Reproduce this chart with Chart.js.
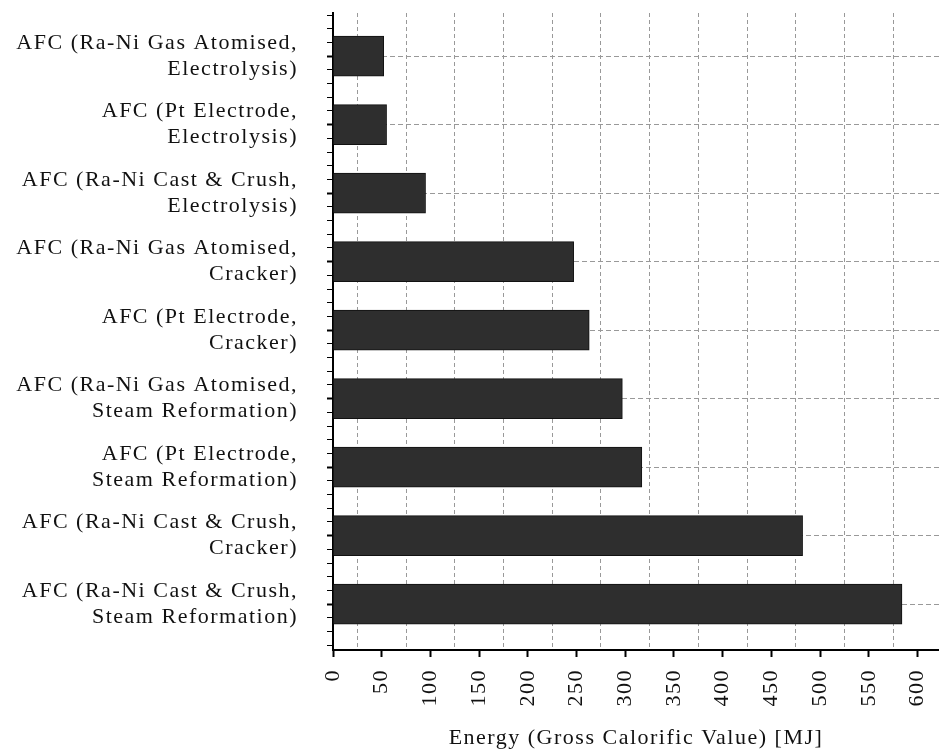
<!DOCTYPE html>
<html>
<head>
<meta charset="utf-8">
<script src="https://cdn.jsdelivr.net/npm/chart.js@4/dist/chart.umd.min.js"></script>
<style>
  body { margin: 0; background: #fff; }
  #wrap { width: 939px; height: 754px; }
</style>
</head>
<body>
<div id="wrap"><canvas id="energyChart"></canvas></div>
<script>
// ===============================
// data
// ===============================
const categories = [
    ["AFC (Ra-Ni Gas Atomised,", "Electrolysis)"],
    ["AFC (Pt Electrode,", "Electrolysis)"],
    ["AFC (Ra-Ni Cast & Crush,", "Electrolysis)"],
    ["AFC (Ra-Ni Gas Atomised,", "Cracker)"],
    ["AFC (Pt Electrode,", "Cracker)"],
    ["AFC (Ra-Ni Gas Atomised,", "Steam Reformation)"],
    ["AFC (Pt Electrode,", "Steam Reformation)"],
    ["AFC (Ra-Ni Cast & Crush,", "Cracker)"],
    ["AFC (Ra-Ni Cast & Crush,", "Steam Reformation)"]
];
const energy = [52, 55, 95, 247, 263, 297, 317, 482, 584];
const xTickValues = [0, 50, 100, 150, 200, 250, 300, 350, 400, 450, 500, 550, 600];
const axisTitle = "Energy (Gross Calorific Value) [MJ]";

const serif = "'Liberation Serif', 'Times New Roman', serif";
const isWhole = v => Math.abs(v - Math.round(v)) < 1e-6;

// the original text is set a little loose, canvas resets this on resize
const spacing = {
    id: "spacing",
    beforeUpdate: ch => { ch.ctx.letterSpacing = "1.5px"; },
    beforeDraw: ch => { ch.ctx.letterSpacing = "1.5px"; }
};

// ===============================
// chart
// ===============================
new Chart(document.getElementById("energyChart"), {
    type: "bar",
    plugins: [spacing],
    data: {
        datasets: [{
            data: energy.map((v, i) => ({ x: v, y: i })),
            backgroundColor: "#2e2e2e",
            borderColor: "#111",
            borderWidth: 1,
            barThickness: 40
        }]
    },
    options: {
        indexAxis: "y",
        responsive: true,
        maintainAspectRatio: false,
        animation: false,
        layout: { padding: { top: 13, right: 0, left: 0, bottom: 0 } },
        plugins: {
            legend: { display: false },
            tooltip: { enabled: false }
        },
        scales: {
            x: {
                type: "linear",
                min: 0,
                max: 622,
                bounds: "data",
                afterBuildTicks: s => {
                    // labelled ticks every 50, dashed grid half way between
                    const t = [];
                    xTickValues.forEach(v => {
                        t.push({ value: v });
                        if (v + 25 < 622) t.push({ value: v + 25 });
                    });
                    s.ticks = t;
                },
                afterFit: s => {
                    s.height = 104;
                    s.paddingLeft = 0;
                    s.paddingRight = 0;
                },
                ticks: {
                    minRotation: 90,
                    maxRotation: 90,
                    autoSkip: false,
                    padding: 12,
                    color: "#111",
                    font: { family: serif, size: 22 },
                    callback: v => (v % 50 === 0 ? v : "")
                },
                grid: {
                    color: c => (c.tick && c.tick.value % 50 !== 0 ? "#999" : "rgba(0,0,0,0)"),
                    tickColor: c => (c.tick && c.tick.value % 50 === 0 ? "#000" : "rgba(0,0,0,0)"),
                    tickWidth: 2,
                    tickLength: 7,
                    lineWidth: 1
                },
                border: { color: "#000", width: 2, dash: [4, 3] },
                title: {
                    display: true,
                    text: axisTitle,
                    color: "#111",
                    font: { family: serif, size: 22 },
                    padding: { top: 0, bottom: 3 }
                }
            },
            y: {
                type: "linear",
                reverse: true,
                offset: false,
                min: -0.63,
                max: 8.67,
                bounds: "data",
                afterBuildTicks: s => {
                    // one labelled tick per bar, four small ones between
                    const t = [];
                    for (let k = -3; k <= 43; k++) t.push({ value: k / 5 });
                    s.ticks = t;
                },
                afterFit: s => {
                    s.width = 333;
                    s.paddingTop = 0;
                    s.paddingBottom = 0;
                },
                ticks: {
                    autoSkip: false,
                    padding: 29,
                    color: "#111",
                    font: { family: serif, size: 22, lineHeight: 1.18 },
                    callback: v => (isWhole(v) ? categories[Math.round(v)] : "")
                },
                grid: {
                    offset: false,
                    color: c => (c.tick && isWhole(c.tick.value) ? "#999" : "rgba(0,0,0,0)"),
                    tickColor: "#000",
                    tickWidth: c => (c.tick && isWhole(c.tick.value) ? 2 : 1),
                    tickLength: 6,
                    lineWidth: 1
                },
                border: { color: "#000", width: 2, dash: [5, 3] }
            }
        }
    }
});
</script>
</body>
</html>
